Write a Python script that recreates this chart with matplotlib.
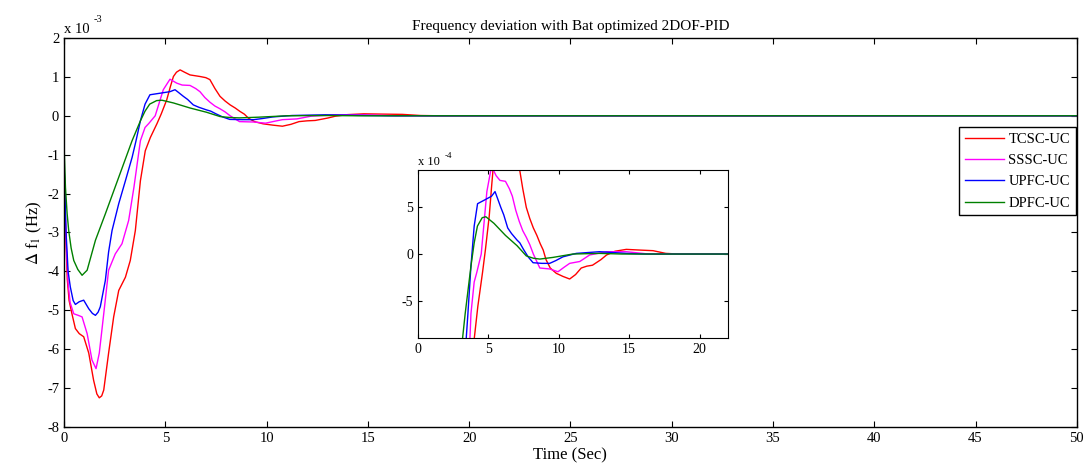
import numpy as np
import matplotlib
matplotlib.use("Agg")
import matplotlib.pyplot as plt

# time (s) and frequency deviation (x 1e-3 Hz)
t_tcsc = [0, 0.08, 0.16, 0.25, 0.39, 0.56, 0.75, 0.97, 1.22, 1.46, 1.62, 1.74, 1.86, 1.96,
          2.2, 2.45, 2.7, 3.03, 3.27, 3.52, 3.77, 4.01, 4.26, 4.59, 4.8, 5.07, 5.25, 5.4,
          5.55, 5.73, 5.95, 6.22, 6.71, 7.0, 7.2, 7.45, 7.7, 7.95, 8.2, 8.45, 8.69, 8.9,
          9.1, 9.4, 9.83, 10.3, 10.78, 11.2, 11.6, 12.0, 12.4, 13.0, 13.4, 14.0, 14.8,
          15.7, 16.7, 17.6, 18.5, 50]
f_tcsc = [-1.2, -3.0, -4.2, -4.75, -5.09, -5.47, -5.6, -5.68, -6.1, -6.8, -7.15, -7.25, -7.2, -7.05,
          -6.1, -5.17, -4.49, -4.15, -3.72, -2.95, -1.67, -0.9, -0.56, -0.2, 0.05, 0.41, 0.75, 1.01,
          1.12, 1.18, 1.12, 1.05, 1.01, 0.98, 0.93, 0.7, 0.5, 0.38, 0.28, 0.2, 0.11, 0.043,
          -0.06, -0.15, -0.207, -0.24, -0.268, -0.22, -0.15, -0.13, -0.12, -0.06, -0.01, 0.03, 0.05,
          0.043, 0.036, 0.007, 0.0, 0.0]

t_sssc = [0, 0.1, 0.2, 0.3, 0.48, 0.7, 0.89, 1.14, 1.38, 1.58, 1.74, 1.96, 2.2, 2.53, 2.86,
          3.19, 3.45, 3.77, 4.0, 4.18, 4.5, 4.9, 5.23, 5.56, 5.83, 6.22, 6.5, 6.71, 6.95, 7.2,
          7.45, 7.7, 7.95, 8.2, 8.66, 9.36, 9.95, 10.4, 10.78, 11.5, 12.2, 13.4, 14.8, 16.4, 50]
f_sssc = [-1.4, -3.2, -4.3, -4.8, -5.09, -5.13, -5.17, -5.6, -6.28, -6.5, -6.1, -5.09, -3.97, -3.55, -3.29,
          -2.69, -1.84, -0.64, -0.3, -0.2, 0.0, 0.67, 0.94, 0.84, 0.79, 0.78, 0.7, 0.62, 0.47, 0.35,
          0.25, 0.18, 0.1, 0.0, -0.15, -0.16, -0.19, -0.14, -0.1, -0.08, -0.01, 0.025, 0.025, 0.0, 0.0]

t_upfc = [0, 0.1, 0.2, 0.31, 0.45, 0.56, 0.75, 0.97, 1.22, 1.4, 1.55, 1.68, 1.79, 2.04, 2.2,
          2.37, 2.7, 3.03, 3.36, 3.55, 3.77, 4.0, 4.24, 4.74, 5.23, 5.48, 5.65, 5.89, 6.1,
          6.38, 6.65, 7.04, 7.24, 7.5, 7.83, 8.18, 8.8, 9.36, 9.8, 10.3, 11.25, 12.9, 14.8, 16.0, 50]
f_upfc = [-1.2, -3.0, -4.0, -4.4, -4.75, -4.85, -4.78, -4.74, -4.96, -5.08, -5.13, -5.05, -4.91, -4.23, -3.5,
          -2.95, -2.26, -1.67, -1.07, -0.65, -0.13, 0.3, 0.54, 0.58, 0.62, 0.67, 0.6, 0.5, 0.42,
          0.28, 0.22, 0.15, 0.12, 0.05, -0.03, -0.093, -0.1, -0.1, -0.07, -0.03, 0.007, 0.025, 0.007, 0.0, 0.0]

t_dpfc = [0, 0.07, 0.15, 0.23, 0.35, 0.48, 0.68, 0.89, 1.14, 1.55, 2.04, 2.7, 3.36, 3.77, 4.0,
          4.23, 4.57, 4.83, 5.4, 6.22, 7.04, 7.7, 8.2, 8.66, 9.6, 11.0, 12.9, 14.5, 50]
f_dpfc = [-0.74, -1.84, -2.5, -2.95, -3.4, -3.72, -3.95, -4.1, -3.97, -3.2, -2.52, -1.58, -0.64, -0.13, 0.12,
          0.3, 0.39, 0.40, 0.33, 0.2, 0.09, -0.02, -0.045, -0.054, -0.036, 0.0, 0.007, 0.0, 0.0]

names = ["TCSC-UC", "SSSC-UC", "UPFC-UC", "DPFC-UC"]
colors = ["#ff0000", "#ff00ff", "#0000ff", "#008000"]
series = [(t_tcsc, f_tcsc), (t_sssc, f_sssc), (t_upfc, f_upfc), (t_dpfc, f_dpfc)]

plt.rcParams["font.family"] = ["Liberation Serif", "DejaVu Serif"]
plt.rcParams["mathtext.fontset"] = "stix"
plt.rcParams["axes.unicode_minus"] = False

fig = plt.figure(figsize=(10.91, 4.70), dpi=100)
ax = fig.add_axes([0.0587, 0.0915, 0.9283, 0.8277])

for (t, f), c, n in zip(series, colors, names):
    ax.plot(t, f, color=c, lw=1.0, label=n)

ax.set_xlim(0, 50)
ax.set_ylim(-8, 2)
ax.set_xticks(np.arange(0, 51, 5))
ax.set_yticks(np.arange(-8, 3, 1))
ax.tick_params(direction="in", top=True, right=True, labelsize=10.5, length=4)
for s in ax.spines.values():
    s.set_linewidth(1.0)
ax.set_title("Frequency deviation with Bat optimized 2DOF-PID", fontsize=11, pad=6)
ax.set_xlabel("Time (Sec)", fontsize=12, labelpad=2)
ax.set_ylabel(r"$\Delta$ f$_1$ (Hz)", fontsize=12, labelpad=2)
# MATLAB-style exponent label
ax.text(0.0, 1.005, "x 10", transform=ax.transAxes, fontsize=10.5,
        ha="left", va="bottom")
ax.text(0.0295, 1.035, "-3", transform=ax.transAxes, fontsize=7.5,
        ha="left", va="bottom")

leg = ax.legend(loc="upper right", bbox_to_anchor=(0.986, 0.730),
                bbox_transform=fig.transFigure, fontsize=10.5, frameon=True,
                fancybox=False, framealpha=1, edgecolor="black", handlelength=2.7,
                borderpad=0.4, labelspacing=0.55, handletextpad=0.3, borderaxespad=0)
leg.get_frame().set_linewidth(1.0)

# inset zoom (x 1e-4)
axi = fig.add_axes([0.383, 0.281, 0.284, 0.357])
for (t, f), c in zip(series, colors):
    axi.plot(t, np.array(f) * 10, color=c, lw=1.0)
axi.set_xlim(0, 22)
axi.set_ylim(-9, 9)
axi.set_xticks([0, 5, 10, 15, 20])
axi.set_yticks([-5, 0, 5])
axi.tick_params(direction="in", top=True, right=True, labelsize=10, length=3)
axi.text(0.0, 1.01, "x 10", transform=axi.transAxes, fontsize=9,
         ha="left", va="bottom")
axi.text(0.085, 1.06, "-4", transform=axi.transAxes, fontsize=6.5,
         ha="left", va="bottom")

fig.savefig("out.png", dpi=100)
